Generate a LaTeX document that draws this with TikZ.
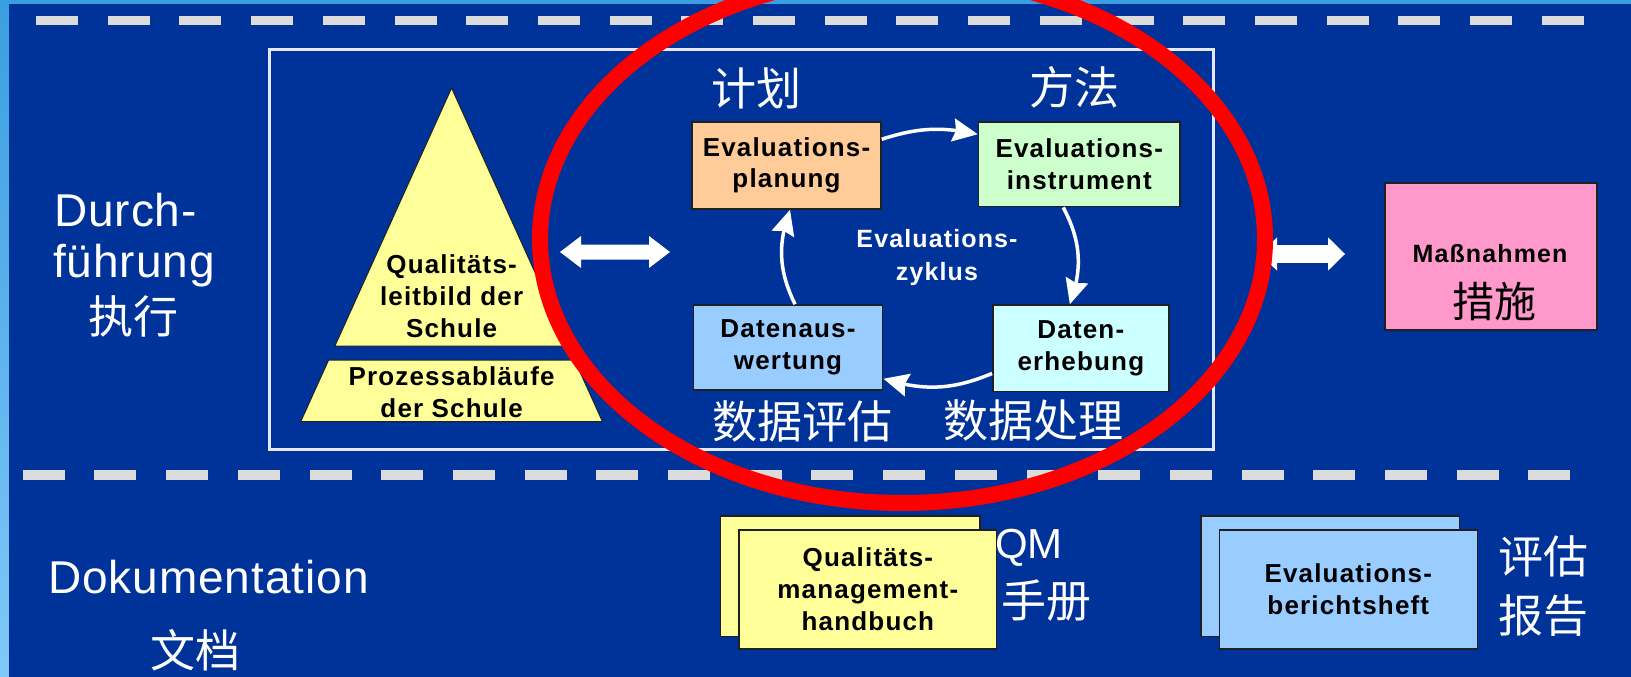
\documentclass[tikz,border=0pt]{standalone}
\usepackage{fontspec}
\setmainfont{Liberation Sans}
\newfontfamily\bxf[LetterSpace=4.5]{Liberation Sans}
\newfontfamily\lbf[LetterSpace=2]{Liberation Sans}
\newfontfamily\cjk{Noto Sans CJK SC}
\usetikzlibrary{arrows.meta,bending}
\definecolor{bg}{HTML}{003399}
\definecolor{striptop}{HTML}{3A9EE0}
\definecolor{stripbot}{HTML}{80C8F8}
\definecolor{dashc}{HTML}{DCDCDC}
\definecolor{framec}{HTML}{E8E8F4}
\definecolor{pyrfill}{HTML}{FFFF99}
\definecolor{lineC}{HTML}{202020}
\definecolor{cplan}{HTML}{FFCC99}
\definecolor{cinst}{HTML}{CCFFCC}
\definecolor{caus}{HTML}{99CCFF}
\definecolor{cerh}{HTML}{CCFFFF}
\definecolor{cmass}{HTML}{FF99CC}
\definecolor{redC}{HTML}{FF0000}
\newcommand\blockdarrow[6]{% x1,x2,y,shafthalf,headhalf,headlen
  \fill[white] (#1,#3) -- ({#1+#6},{#3-#5}) -- ({#1+#6},{#3-#4}) -- ({#2-#6},{#3-#4}) -- ({#2-#6},{#3-#5}) -- (#2,#3) -- ({#2-#6},{#3+#5}) -- ({#2-#6},{#3+#4}) -- ({#1+#6},{#3+#4}) -- ({#1+#6},{#3+#5}) -- cycle;}
\begin{document}
\begin{tikzpicture}[x=1pt,y=-1pt,
  box/.style={draw=lineC, line width=1.5pt, inner sep=0pt, align=center,
    font=\bxf\bfseries\fontsize{26}{31.5}\selectfont, text=black},
  cyc/.style={draw=white, line width=3.5pt, -{Stealth[length=25pt,width=23pt,inset=3pt]}},
  wlab/.style={text=white, inner sep=0pt},
  cjklab/.style={wlab, font=\cjk\fontsize{45}{45}\selectfont},
  biglab/.style={wlab, font=\lbf\fontsize{46}{46}\selectfont},
  dashline/.style={draw=dashc, line width=9pt, dash pattern=on 42pt off 29.7pt},
  pyr/.style={fill=pyrfill, draw=lineC, line width=1pt},
  pyrtext/.style={inner sep=0pt, align=center, font=\bxf\bfseries\fontsize{26}{32}\selectfont},
  doc/.style={draw=lineC, line width=1.5pt, inner sep=0pt, align=center,
    minimum width=258pt, minimum height=119pt,
    font=\bxf\bfseries\fontsize{26}{32}\selectfont},
  ]
\useasboundingbox (0,0) rectangle (1631,677);
% background
\fill[striptop] (0,0) rectangle (1631,4);
\shade[top color=striptop, bottom color=stripbot] (0,0) rectangle (9,677);
\fill[bg] (9,4) rectangle (1631,677);
% dashed separators
\draw[dashline] (36,20.5) -- (1584,20.5);
\draw[dashline, line width=10pt] (22.7,474.5) -- (1570.4,474.5);
% frame
\draw[framec, line width=3pt] (269.5,49.5) rectangle (1213,449);
% left labels
\node[biglab, anchor=base west] (durch) at (54,226) {Durch-};
\node[biglab, anchor=base west] (fuehr) at (53,277) {führung};
\node[cjklab] (zhixing) at (133,316) {执行};
\node[biglab, anchor=base west] (doku) at (48,593.3) {Dokumentation};
\node[cjklab] (wendang) at (195.5,650) {文档};
% pyramid
\filldraw[pyr] (451.6,88) -- (568.3,346) -- (334.9,346) -- cycle;
\filldraw[pyr] (328.6,360) -- (574.6,360) -- (602.5,421.7) -- (300.7,421.7) -- cycle;
\node[pyrtext] (qleit) at (451.6,296) {Qualitäts-\\leitbild der\\Schule};
\node[pyrtext] (proz) at (451.6,391.8) {Prozessabläufe\\der Schule};
% block arrows
\blockdarrow{560}{670}{252}{7.5}{16}{21}
% cycle boxes
\node[box, fill=cplan, minimum width=189pt, minimum height=87pt] (plan) at (786.5,165.5) {Evaluations-\\planung};
\node[box, fill=cinst, minimum width=201.5pt, minimum height=84.7pt] (inst) at (1079.25,164.35) {Evaluations-\\instrument};
\node[box, fill=caus, minimum width=189.4pt, minimum height=85pt] (aus) at (788,347.5) {Datenaus-\\wertung};
\node[box, fill=cerh, minimum width=176.1pt, minimum height=86.7pt] (erh) at (1080.85,348.35) {Daten-\\erhebung};
\node[wlab, align=center, font=\bxf\bfseries\fontsize{25}{33}\selectfont] (zyk) at (937,257.5) {Evaluations-\\zyklus};
% cycle arrows
\draw[cyc] ([yshift=-18pt]plan.north east) to[bend left=15] ([yshift=-13pt]inst.north west);
\draw[cyc] ([xshift=-16pt]inst.south) to[bend left=24] ([xshift=-11pt]erh.north);
\draw[cyc] ([yshift=19pt]erh.south west) to[bend left=20] ([yshift=12pt]aus.south east);
\draw[cyc] ([xshift=7pt]aus.north) to[bend left=23] ([xshift=3.5pt]plan.south);
% cycle labels
\node[cjklab] (jihua) at (756,88) {计划};
\node[cjklab] (fangfa) at (1074,87) {方法};
\node[cjklab] (sjpg) at (802.6,421) {数据评估};
\node[cjklab] (sjcl) at (1033.5,420) {数据处理};
% right arrow
\blockdarrow{1260}{1345}{254}{8.8}{16.7}{17}
% red ellipse
\draw[redC, line width=16pt] (902.5,239) ellipse [x radius=362.5pt, y radius=264pt];
% measures box
\node[draw=lineC, line width=1.5pt, fill=cmass, minimum width=212pt, minimum height=147pt, inner sep=0pt] (mass) at (1491,256.5) {};
\node[inner sep=0pt, font=\bxf\bfseries\fontsize{25}{25}\selectfont] (masst) at (1490,253.5) {Maßnahmen};
\node[inner sep=0pt, font=\cjk\fontsize{42}{42}\selectfont] (cuoshi) at (1494,301.5) {措施};
% documents
\node[doc, fill=pyrfill, minimum width=259.3pt, minimum height=120.7pt] (qmback) at (850.35,576.35) {};
\node[doc, fill=pyrfill, minimum width=257.7pt, minimum height=119pt] (qmfront) at (867.85,589.5) {Qualitäts-\\management-\\handbuch};
\node[wlab, anchor=base west, font=\fontsize{42}{42}\selectfont] (qm) at (995,558) {QM};
\node[cjklab] (shouce) at (1046.7,601) {手册};
\node[doc, fill=caus, minimum width=258.3pt, minimum height=120.7pt] (evback) at (1330.15,576.35) {};
\node[doc, fill=caus, minimum width=258pt, minimum height=119pt] (evfront) at (1348.3,589.5) {Evaluations-\\berichtsheft};
\node[cjklab] (pinggu) at (1543,556.5) {评估};
\node[cjklab] (baogao) at (1543,616) {报告};
\end{tikzpicture}
\end{document}
